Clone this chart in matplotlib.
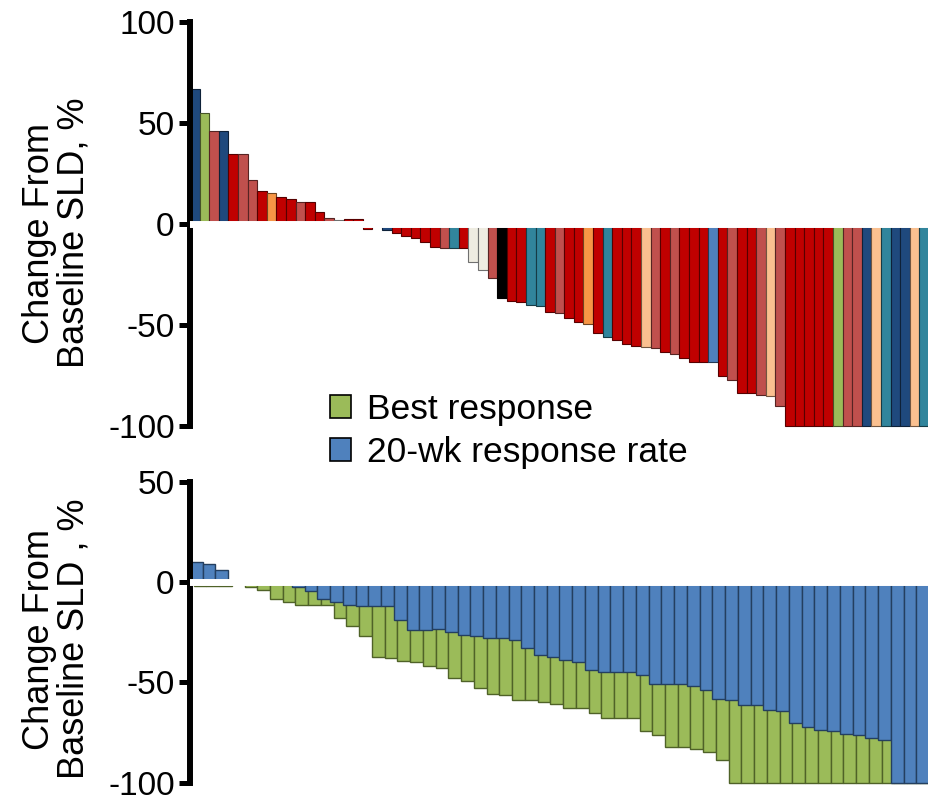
import matplotlib
matplotlib.use("Agg")
import matplotlib.pyplot as plt
from matplotlib.colors import to_rgb
from matplotlib.patches import Patch

plt.rcParams['font.family'] = ['Liberation Sans', 'DejaVu Sans']

# ---------------- data ----------------
# top panel: per-patient change from baseline, with tumour-type group
top_values = [67, 55, 46, 46, 35, 35, 22, 16.5, 15.5, 13.5, 12.5, 11, 11, 6, 3, 2, 2.5, 2.5,
              -2.3, 0, -3, -4.5, -5.7, -7, -8.7, -11.2, -11.7, -11.7, -11.7, -18.7, -22.6,
              -26.8, -36.7, -38, -38.8, -40, -40.6, -43.4, -43.9, -46.7, -48.6, -49.4, -53.9,
              -56.1, -57.4, -59.4, -60.2, -60.8, -61.2, -63.2, -64.3, -66.5, -68.5, -68.5,
              -68.5, -75.2, -77.4, -83.6, -83.8, -84.6, -84.9, -89.9,
              -100, -100, -100, -100, -100, -100, -100, -100, -100, -100, -100, -100, -100,
              -100, -100]
top_groups = ['DB', 'G', 'S', 'DB', 'R', 'S', 'S', 'R', 'O', 'R', 'R', 'S', 'R', 'R', 'S', 'C',
              'R', 'R', 'R', 'R', 'DB', 'R', 'R', 'R', 'R', 'R', 'S', 'T', 'R', 'C', 'C', 'S',
              'K', 'R', 'R', 'T', 'T', 'R', 'S', 'R', 'R', 'O', 'R', 'T', 'R', 'R', 'R', 'LO',
              'S', 'R', 'S', 'R', 'R', 'R', 'B', 'R', 'S', 'R', 'R', 'S', 'LO', 'S',
              'R', 'R', 'R', 'R', 'R', 'G', 'S', 'S', 'DB', 'LO', 'T', 'DB', 'DB', 'LO', 'T']

# bottom panel: best response vs 20-wk response
best_response = [-1.8, -1.8, -1.8, 0, -2.5, -3.8, -8.3, -10.1, -11.6, -11.6, -11.6, -17.9,
                 -22.1, -27.1, -37.5, -37.9, -39.5, -40, -42, -42.8, -47.8, -49.5, -52.8,
                 -55.6, -56.5, -58.6, -58.6, -60, -60.6, -62.8, -62.8, -65.3, -67.8, -67.8,
                 -67.8, -74.4, -76.4, -82.2, -82.2, -83, -84.7, -88.5,
                 -100, -100, -100, -100, -100, -100, -100, -100, -100, -100, -100, -100,
                 -100, -100, -100, -100]
wk20_response = [9.8, 9.1, 5.8, 0, 0, 0, 0, 0, -2.5, -4.6, -8.3, -10.1, -11.3, -12.1, -12.1,
                 -12.1, -19.1, -23.8, -23.8, -23.6, -25.1, -26.2, -26.7, -27.9, -27.9, -29.1,
                 -32.9, -36.2, -37.5, -39, -40, -44, -45, -45, -45, -46.2, -50.7, -50.7, -50.7,
                 -51.7, -54, -58.3, -58.9, -61.4, -61.1, -63.6, -64.1, -70.3, -72.4, -73.6,
                 -74.1, -75.7, -76.4, -77.7, -78.6, -100, -100, -100]

legend_labels = ['Best response', '20-wk response rate']

# ---------------- styles ----------------
group_colors = {'DB': '#1F497D', 'G': '#9BBB59', 'S': '#C0504D', 'R': '#C00000',
                'O': '#F79646', 'LO': '#FAC090', 'T': '#31859C', 'C': '#EEECE1',
                'K': '#000000', 'B': '#4F81BD'}
green = '#9BBB59'
blue = '#4F81BD'


def darker(c, f=0.45):
    r, g, b = to_rgb(c)
    return (r * f, g * f, b * f)


def style_axis(ax, lo, hi, ticks):
    for s in ['top', 'right', 'bottom']:
        ax.spines[s].set_visible(False)
    ax.spines['left'].set_linewidth(4.3)
    ax.spines['left'].set_bounds(lo, hi)
    ax.set_ylim(lo, hi)
    ax.set_yticks(ticks)
    ax.set_yticklabels([str(t) for t in ticks])
    ax.tick_params(axis='y', length=8, width=3.6, pad=3, labelsize=24)
    ax.set_xticks([])
    ax.axhline(0, color='white', lw=5, zorder=3)


fig = plt.figure(figsize=(9.29, 7.99), dpi=100)
W, H = 929.0, 799.0

# ---------------- top panel ----------------
ax1 = fig.add_axes([190 / W, (H - 426) / H, 739 / W, (426 - 22.3) / H])
x_top = list(range(len(top_values)))
cols = [group_colors[g] for g in top_groups]
ax1.bar(x_top, top_values, width=1.0, color=cols,
        edgecolor=[darker(c) if c != '#EEECE1' else '#707070' for c in cols],
        linewidth=0.8, clip_on=False, zorder=1)
ax1.set_xlim(-0.5, len(top_values) - 0.5)
style_axis(ax1, -100, 100, [-100, -50, 0, 50, 100])
ax1.set_ylabel('Change From\nBaseline SLD, %', fontsize=26, linespacing=1.0)
ax1.yaxis.set_label_coords(-0.133, 0.478)

# ---------------- bottom panel ----------------
ax2 = fig.add_axes([190 / W, (H - 782.7) / H, 739 / W, (782.7 - 481.7) / H])
x_bot = list(range(len(wk20_response)))
ax2.bar([i + 0.14 for i in x_bot], best_response, width=1.0, color=green,
        edgecolor='#4F6228', linewidth=1.0, clip_on=False, zorder=1)
ax2.bar([i - 0.14 for i in x_bot], wk20_response, width=1.0, color=blue,
        edgecolor='#243F60', linewidth=1.0, clip_on=False, zorder=2)
ax2.set_xlim(-0.64, len(wk20_response) - 1 + 0.36)
style_axis(ax2, -100, 50, [-100, -50, 0, 50])
ax2.set_ylabel('Change From\nBaseline SLD , %', fontsize=26, linespacing=1.0)
ax2.yaxis.set_label_coords(-0.133, 0.477)

# ---------------- legend ----------------
handles = [Patch(facecolor=green, edgecolor='black', linewidth=1.2),
           Patch(facecolor=blue, edgecolor='black', linewidth=1.2)]
fig.legend(handles, legend_labels, loc='upper left',
           bbox_to_anchor=(330 / W, 1 - 393 / H), frameon=False, fontsize=25.5,
           handlelength=0.6, handleheight=0.6, handletextpad=0.45,
           labelspacing=0.28, borderpad=0, borderaxespad=0)

fig.savefig('out.png', dpi=100)
